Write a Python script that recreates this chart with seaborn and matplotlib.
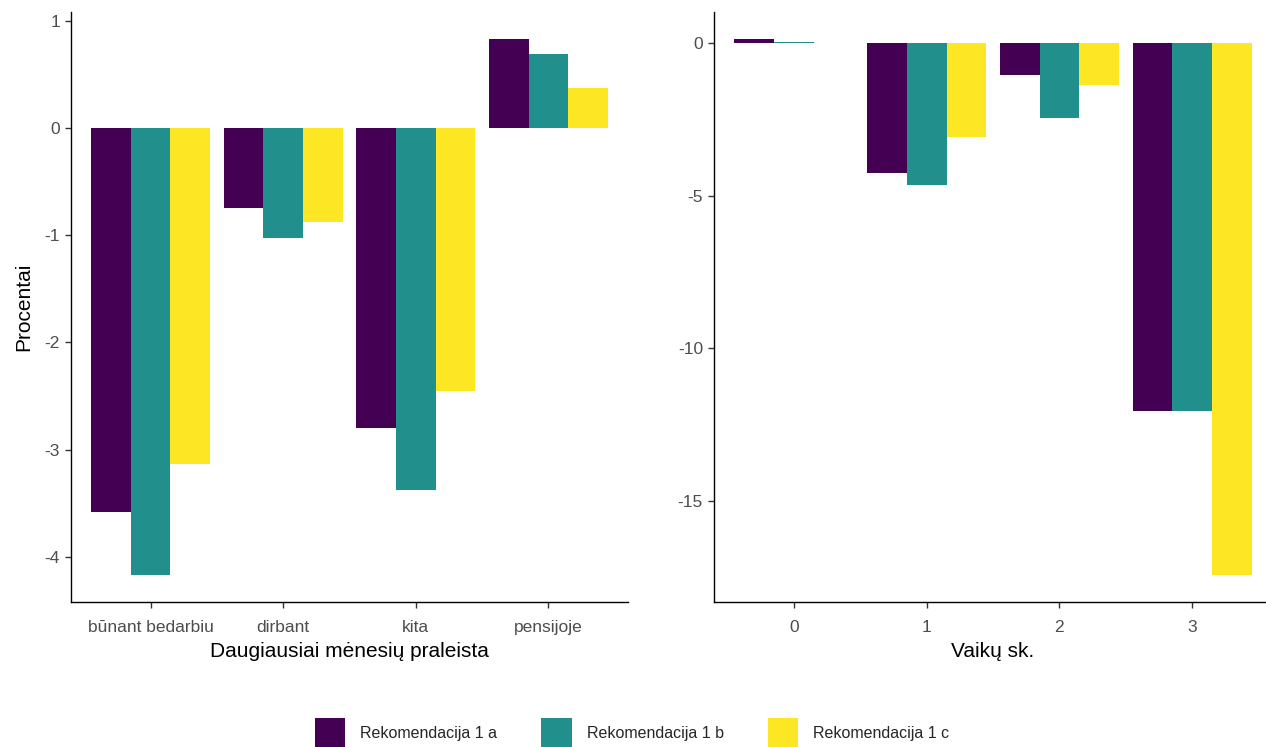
import numpy as np
import pandas as pd
import seaborn as sns
import matplotlib.pyplot as plt
from matplotlib.patches import Patch

# data
groups = ["Rekomendacija 1 a", "Rekomendacija 1 b", "Rekomendacija 1 c"]
colors = ["#440154", "#21908C", "#FDE725"]

activity = ["būnant bedarbiu", "dirbant", "kita", "pensijoje"]
act_a = [-3.58, -0.75, -2.80, 0.83]
act_b = [-4.17, -1.03, -3.38, 0.69]
act_c = [-3.13, -0.88, -2.45, 0.37]

kids = ["0", "1", "2", "3"]
kids_a = [0.15, -4.24, -1.05, -12.05]
kids_b = [0.04, -4.64, -2.43, -12.05]
kids_c = [0.0, -3.06, -1.35, -17.43]


def long_df(cats, a, b, c):
    rows = []
    for vals, g in zip([a, b, c], groups):
        for cat, v in zip(cats, vals):
            rows.append({"cat": cat, "value": v, "rek": g})
    return pd.DataFrame(rows)


df_act = long_df(activity, act_a, act_b, act_c)
df_kids = long_df(kids, kids_a, kids_b, kids_c)

sns.set_style("white")
plt.rcParams["font.family"] = ["Liberation Sans", "DejaVu Sans"]

fig = plt.figure(figsize=(12.66, 7.47), dpi=100)
ax1 = fig.add_axes([71 / 1266, 1 - 602 / 747, 557 / 1266, 590 / 747])
ax2 = fig.add_axes([714 / 1266, 1 - 602 / 747, 558 / 1266, 590 / 747])

for ax, df, cats in [(ax1, df_act, activity), (ax2, df_kids, kids)]:
    sns.barplot(data=df, x="cat", y="value", hue="rek", order=cats,
                hue_order=groups, palette=colors, width=0.9, saturation=1,
                edgecolor="none", linewidth=0, legend=False, ax=ax)
    ax.set_xlim(-0.6, len(cats) - 0.4)
    lo, hi = df["value"].min(), df["value"].max()
    pad = (hi - lo) * 0.05
    ax.set_ylim(lo - pad, hi + pad)
    for side in ["top", "right"]:
        ax.spines[side].set_visible(False)
    for side in ["left", "bottom"]:
        ax.spines[side].set_color("black")
        ax.spines[side].set_linewidth(1.0)
    ax.tick_params(axis="both", bottom=True, left=True, length=4, width=1.0,
                   color="#333333", labelsize=12.5, labelcolor="#4D4D4D", pad=4)
    ax.tick_params(axis="x", pad=9)

ax1.set_yticks([1, 0, -1, -2, -3, -4])
ax1.set_yticklabels(["1", "0", "-1", "-2", "-3", "-4"])
ax2.set_yticks([0, -5, -10, -15])
ax2.set_yticklabels(["0", "-5", "-10", "-15"])

ax1.set_xlabel("Daugiausiai mėnesių praleista", fontsize=15, color="black", labelpad=5)
ax1.set_ylabel("Procentai", fontsize=15, color="black", labelpad=8)
ax2.set_xlabel("Vaikų sk.", fontsize=15, color="black", labelpad=5)
ax2.set_ylabel("")

handles = [Patch(facecolor=c, edgecolor="none", label=g) for c, g in zip(colors, groups)]
fig.legend(handles=handles, loc="center", bbox_to_anchor=(632 / 1266, 1 - 733 / 747),
           ncol=3, frameon=False, fontsize=11.5, handlelength=1.9, handleheight=2.6,
           handletextpad=0.95, columnspacing=2.75)

fig.savefig("out.png", dpi=100)
